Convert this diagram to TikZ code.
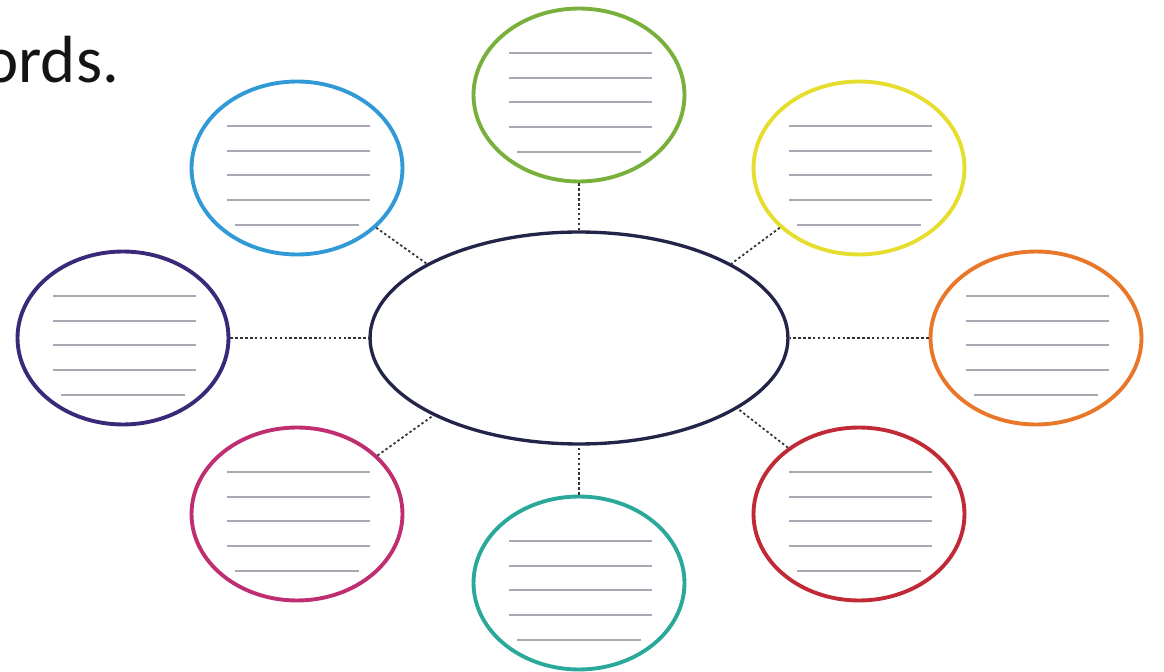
\documentclass[tikz,border=0pt]{standalone}
\usepackage{fontspec}
\setmainfont{Carlito}
\usepackage{xcolor}
\usepackage{tikz}
\usetikzlibrary{shapes.geometric}
\definecolor{wmNavy}{HTML}{23244A}
\definecolor{wmGreen}{HTML}{79B03C}
\definecolor{wmYellow}{HTML}{E6DE2E}
\definecolor{wmOrange}{HTML}{E8772A}
\definecolor{wmRed}{HTML}{C02A36}
\definecolor{wmTeal}{HTML}{2AA89A}
\definecolor{wmPink}{HTML}{BE2E70}
\definecolor{wmPurple}{HTML}{3A2878}
\definecolor{wmBlue}{HTML}{3199D6}
\definecolor{wmRule}{HTML}{A8A8B2}
\definecolor{wmDot}{HTML}{333333}

\begin{document}
\begin{tikzpicture}[x=0.02cm, y=-0.02cm,
  hub/.style={ellipse, draw=wmNavy, line width=1.9pt, minimum width=8.36cm, minimum height=4.24cm, inner sep=0pt},
  leaf/.style={ellipse, line width=2.2pt, minimum width=4.22cm, minimum height=3.46cm, inner sep=0pt},
  link/.style={wmDot, line width=1pt, dash pattern=on 1.4pt off 1.4pt},
  rule/.style={wmRule, line width=1.1pt}]
\tikzset{ruled/.pic={\foreach \y in {-42,-17,7,32}{\draw[rule](-70,\y)--(73,\y);}\draw[rule](-62,57)--(62,57);}}
\useasboundingbox (0,0) rectangle (1164,672);
\clip (0,0) rectangle (1164,672);
\node[anchor=base west, inner sep=0pt, text=black!92, font=\fontsize{38}{46}\selectfont] (ttl) at (-17,83) {ords.};
\node[hub] (hub) at (579,338) {};
\node[leaf, draw=wmGreen]  (top)  at (579,95)  {};
\node[leaf, draw=wmYellow] (ne)   at (859,168) {};
\node[leaf, draw=wmOrange] (east) at (1036,338) {};
\node[leaf, draw=wmRed]    (se)   at (859,514) {};
\node[leaf, draw=wmTeal]   (bot)  at (579,583) {};
\node[leaf, draw=wmPink]   (sw)   at (297,514) {};
\node[leaf, draw=wmPurple] (west) at (123,338) {};
\node[leaf, draw=wmBlue]   (nw)   at (297,168) {};
\foreach \n in {top,ne,east,se,bot,sw,west,nw}{\pic at (\n){ruled};}
\draw[link] (top) -- (hub);
\draw[link] (bot) -- (hub);
\draw[link] (west) -- (hub);
\draw[link] (east) -- (hub);
\draw[link] (nw.-37) -- (hub.154);
\draw[link] (ne.-143) -- (hub.26);
\draw[link] (se.137) -- (hub.-24);
\draw[link] (sw.36) -- (hub.-152);
\end{tikzpicture}
\end{document}
